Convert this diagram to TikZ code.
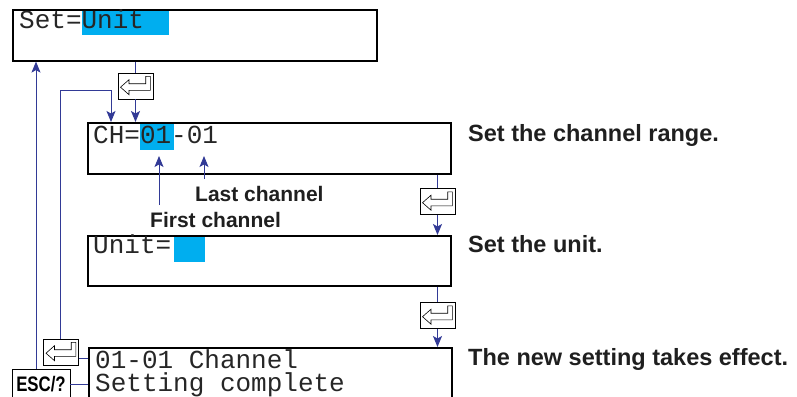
\documentclass[tikz,border=0pt]{standalone}
\usepackage{fontspec}
\setmainfont{Liberation Sans}
\newfontfamily\monof{Liberation Mono}
\usetikzlibrary{arrows.meta,calc}
\definecolor{conn}{RGB}{50,58,150}
\definecolor{hl}{RGB}{0,174,239}
\begin{document}
\begin{tikzpicture}[x=1pt,y=-1pt,
  scr/.style={draw=black, line width=1.6pt, inner sep=0pt, anchor=north west},
  mono/.style={font=\monof\fontsize{26}{26}\selectfont, inner sep=0pt, anchor=base west, text=black!85,
    text height=17pt, text depth=4pt},
  lab/.style={font=\bfseries\fontsize{23.5}{24}\selectfont, inner sep=0pt, anchor=base west, text=black!88},
  slab/.style={font=\bfseries\fontsize{21}{21}\selectfont, inner sep=0pt, anchor=base west, text=black!88},
  cn/.style={draw=conn, line width=1pt},
  arr/.style={cn, -{Stealth[length=11pt,width=9pt,inset=2.5pt]}},
  hlbox/.style={fill=hl, draw=none},
  key/.style={draw=black, line width=0.8pt, minimum width=35pt, minimum height=26pt, inner sep=0pt, fill=white,
    path picture={\draw[line width=0.6pt, line join=miter, shift={(path picture bounding box.center)}]
      (-15,1.2) -- (-6.5,-6.3) -- (-6.5,-2.3) -- (10.2,-2.3) -- (10.2,-9.7) -- (14.8,-9.7)
      -- (14.8,4.3) -- (-6.5,4.3) -- (-6.5,8.7) -- cycle;}},
  esckey/.style={draw=black, line width=0.8pt, minimum width=58pt, minimum height=30pt, inner sep=0pt,
    font=\bfseries\fontsize{21}{21}\selectfont}
]
\useasboundingbox (0,0) rectangle (797,396);

% highlights
\fill[hlbox] (82,9) rectangle (169,35);
\fill[hlbox] (140,122) rectangle (174,150);
\fill[hlbox] (174,235) rectangle (205,262);

% screens
\node[scr, minimum width=364pt, minimum height=51pt] (b1) at (12,9) {};
\node[scr, minimum width=363pt, minimum height=51pt] (b2) at (87,122) {};
\node[scr, minimum width=363pt, minimum height=50pt] (b3) at (87,235) {};
\node[scr, minimum width=363pt, minimum height=73pt] (b4) at (88,347) {};

% screen texts
\node[mono] (t1) at (19,29) {Set=Unit};
\node[mono] (t2) at (93,143) {CH=01-01};
\node[mono] (t3) at (93,253) {Unit=};
\node[mono] (t4a) at (95,368) {01-01 Channel};
\node[mono] (t4b) at (95,391) {Setting complete};

% keys
\node[key] (k1) at (135.5,86) {};
\node[key] (k2) at (437.5,201.5) {};
\node[key] (k3) at (437.5,315.5) {};
\node[key] (k4) at (61,352) {};
\node[esckey] (esc) at (41,384) {\scalebox{0.8}[1]{ESC/?}};

% right labels
\node[lab] (r1) at (468,141) {Set the channel range.};
\node[lab] (r2) at (468,252) {Set the unit.};
\node[lab] (r3) at (468,365) {The new setting takes effect.};

% channel labels
\node[slab] (lc) at (195,201) {Last channel};
\node[slab] (fc) at (150,227) {First channel};

% helper coordinates
\coordinate (xa) at (36,0);
\coordinate (xb) at (60,0);
\coordinate (ret) at (111,90);
\coordinate (y358) at (0,358);
\coordinate (xf) at (159,205);
\coordinate (xl) at (204,179);
\coordinate (tipy) at (0,156);

% connectors
\draw[cn] (b1.south -| k1.north) -- (k1.north);
\draw[arr] (k1.south) -- (b2.north -| k1.south);
\draw[cn] (b2.south -| k2.north) -- (k2.north);
\draw[arr] (k2.south) -- (b3.north -| k2.south);
\draw[cn] (b3.south -| k3.north) -- (k3.north);
\draw[arr] (k3.south) -- (b4.north -| k3.south);
\draw[arr] (k4.north -| xb) |- (ret) -- (b2.north -| ret);
\draw[arr] (esc.north -| xa) -- (b1.south -| xa);
\draw[cn] (k4.east |- y358) -- (b4.west |- y358);
\draw[cn] (esc.east) -- (b4.west |- esc.east);
\draw[arr] (xf) -- (xf |- tipy);
\draw[arr] (xl) -- (xl |- tipy);
\end{tikzpicture}
\end{document}
